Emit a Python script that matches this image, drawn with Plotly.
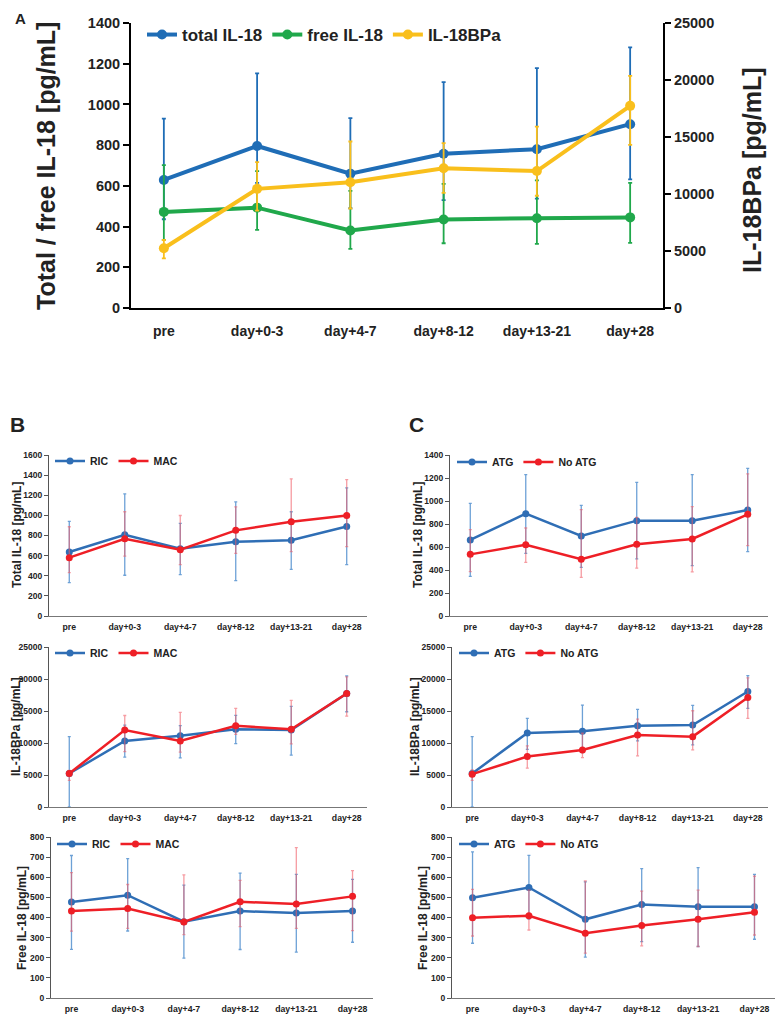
import plotly.graph_objects as go

categories = ["pre", "day+0-3", "day+4-7", "day+8-12", "day+13-21", "day+28"]

# ---- Panel A ----
a_total = [629, 796, 660, 758, 780, 903]
a_total_hi = [930, 1153, 933, 1110, 1178, 1280]
a_total_lo = [436, 615, 490, 530, 537, 632]
a_free = [472, 493, 381, 435, 441, 445]
a_free_hi = [702, 672, 575, 610, 627, 615]
a_free_lo = [335, 384, 290, 318, 315, 320]
a_bp = [5237, 10450, 11035, 12265, 12016, 17731]
a_bp_hi = [5965, 12790, 14607, 14460, 15914, 20369]
a_bp_lo = [4360, 8550, 8730, 10100, 9848, 14302]

# ---- Panel B (RIC vs MAC) ----
b_tot_ric = [636, 808, 669, 738, 752, 890]
b_tot_ric_hi = [940, 1214, 920, 1135, 1036, 1273]
b_tot_ric_lo = [332, 405, 411, 352, 464, 510]
b_tot_mac = [580, 768, 659, 851, 936, 999]
b_tot_mac_hi = [887, 1036, 999, 1085, 1362, 1356]
b_tot_mac_lo = [431, 596, 510, 623, 639, 689]

b_bp_ric = [5240, 10320, 11150, 12140, 12030, 17740]
b_bp_ric_hi = [11000, 12800, 12700, 14320, 15720, 20490]
b_bp_ric_lo = [0, 7780, 7680, 9900, 8100, 14880]
b_bp_mac = [5240, 12030, 10320, 12700, 12140, 17740]
b_bp_mac_hi = [5700, 14300, 14790, 15410, 16660, 20330]
b_bp_mac_lo = [4150, 8660, 8560, 11360, 9850, 14210]

b_free_ric = [477, 511, 379, 432, 422, 432]
b_free_ric_hi = [708, 693, 561, 620, 614, 589]
b_free_ric_lo = [242, 333, 198, 241, 228, 277]
b_free_mac = [432, 445, 378, 478, 467, 505]
b_free_mac_hi = [623, 564, 612, 584, 747, 633]
b_free_mac_lo = [332, 346, 315, 355, 346, 335]

# ---- Panel C (ATG vs No ATG) ----
c_tot_atg = [661, 890, 696, 829, 829, 922]
c_tot_atg_hi = [980, 1229, 962, 1162, 1229, 1284]
c_tot_atg_lo = [345, 545, 423, 496, 438, 559]
c_tot_no = [536, 620, 493, 623, 670, 884]
c_tot_no_hi = [751, 765, 925, 858, 951, 1235]
c_tot_no_lo = [386, 467, 336, 417, 383, 612]

c_bp_atg = [5240, 11570, 11830, 12700, 12810, 18050]
c_bp_atg_hi = [11000, 13850, 15920, 15250, 15870, 20540]
c_bp_atg_lo = [0, 9000, 8500, 10320, 9700, 15400]
c_bp_no = [5135, 7880, 8920, 11255, 10996, 17116]
c_bp_no_hi = [5810, 9540, 11520, 13745, 15040, 20180]
c_bp_no_lo = [4150, 6070, 7720, 7990, 8920, 13850]

c_free_atg = [498, 549, 391, 464, 454, 454]
c_free_atg_hi = [726, 709, 577, 643, 648, 614]
c_free_atg_lo = [272, 392, 203, 280, 256, 292]
c_free_no = [399, 409, 322, 360, 391, 426]
c_free_no_hi = [540, 536, 582, 531, 536, 605]
c_free_no_lo = [308, 338, 223, 259, 256, 313]

# page body has an 8px default margin, so the figure is sized to fit inside it
OFF = 8
W, H = 783 - 2 * OFF, 1028 - 2 * OFF
ARIAL = "Liberation Sans, Arial, sans-serif"

BLUE_A = "#1F6DB6"
GREEN_A = "#20A84B"
YELLOW_A = "#F9BF1C"
BLUE = "#2F6EB5"
RED = "#EE1F26"
BLUE_ERR = "rgba(60,130,200,0.75)"
RED_ERR = "rgba(240,90,100,0.6)"


def px(x):
    return (x - OFF) / W


def py(y):
    return 1 - (y - OFF) / H


def dx(a, b):
    return [px(a), px(b)]


def dy(top, bottom):
    return [py(bottom), py(top)]


fig = go.Figure()


def add_series(name, mean, hi, lo, xa, ya, color, errcolor, lw, ms, legend, ethick, ewidth):
    fig.add_trace(go.Scatter(
        x=categories, y=mean, name=name, mode="lines+markers",
        xaxis=xa, yaxis=ya, legend=legend,
        line=dict(color=color, width=lw),
        marker=dict(color=color, size=ms),
        error_y=dict(type="data", symmetric=False,
                     array=[h - m for h, m in zip(hi, mean)],
                     arrayminus=[m - l for m, l in zip(mean, lo)],
                     color=errcolor, thickness=ethick, width=ewidth),
    ))


# Panel A
add_series("total IL-18", a_total, a_total_hi, a_total_lo, "x", "y", BLUE_A, BLUE_A, 4, 10, "legend", 1.8, 2)
add_series("free IL-18", a_free, a_free_hi, a_free_lo, "x", "y", GREEN_A, GREEN_A, 4, 10, "legend", 1.8, 2)
add_series("IL-18BPa", a_bp, a_bp_hi, a_bp_lo, "x", "y2", YELLOW_A, YELLOW_A, 4, 10, "legend", 1.8, 2)

# Panel B
add_series("RIC", b_tot_ric, b_tot_ric_hi, b_tot_ric_lo, "x3", "y3", BLUE, BLUE_ERR, 2.5, 7, "legend2", 1.3, 1.5)
add_series("MAC", b_tot_mac, b_tot_mac_hi, b_tot_mac_lo, "x3", "y3", RED, RED_ERR, 2.5, 7, "legend2", 1.3, 1.5)
add_series("RIC", b_bp_ric, b_bp_ric_hi, b_bp_ric_lo, "x4", "y4", BLUE, BLUE_ERR, 2.5, 7, "legend3", 1.3, 1.5)
add_series("MAC", b_bp_mac, b_bp_mac_hi, b_bp_mac_lo, "x4", "y4", RED, RED_ERR, 2.5, 7, "legend3", 1.3, 1.5)
add_series("RIC", b_free_ric, b_free_ric_hi, b_free_ric_lo, "x5", "y5", BLUE, BLUE_ERR, 2.5, 7, "legend4", 1.3, 1.5)
add_series("MAC", b_free_mac, b_free_mac_hi, b_free_mac_lo, "x5", "y5", RED, RED_ERR, 2.5, 7, "legend4", 1.3, 1.5)

# Panel C
add_series("ATG", c_tot_atg, c_tot_atg_hi, c_tot_atg_lo, "x6", "y6", BLUE, BLUE_ERR, 2.5, 7, "legend5", 1.3, 1.5)
add_series("No ATG", c_tot_no, c_tot_no_hi, c_tot_no_lo, "x6", "y6", RED, RED_ERR, 2.5, 7, "legend5", 1.3, 1.5)
add_series("ATG", c_bp_atg, c_bp_atg_hi, c_bp_atg_lo, "x7", "y7", BLUE, BLUE_ERR, 2.5, 7, "legend6", 1.3, 1.5)
add_series("No ATG", c_bp_no, c_bp_no_hi, c_bp_no_lo, "x7", "y7", RED, RED_ERR, 2.5, 7, "legend6", 1.3, 1.5)
add_series("ATG", c_free_atg, c_free_atg_hi, c_free_atg_lo, "x8", "y8", BLUE, BLUE_ERR, 2.5, 7, "legend7", 1.3, 1.5)
add_series("No ATG", c_free_no, c_free_no_hi, c_free_no_lo, "x8", "y8", RED, RED_ERR, 2.5, 7, "legend7", 1.3, 1.5)

layout = dict(
    width=W, height=H, autosize=False,
    margin=dict(l=0, r=0, t=0, b=0, autoexpand=False),
    paper_bgcolor="white", plot_bgcolor="white",
    font=dict(family=ARIAL, color="#222"),
)

# Panel A axes
layout["xaxis"] = dict(domain=dx(131, 663), anchor="y", type="category",
                       showline=True, linecolor="black", linewidth=2, ticks="",
                       tickfont=dict(family=ARIAL, size=14, weight="bold", color="#222"),
                       ticklabelstandoff=9, showgrid=False, zeroline=False, automargin=False)
layout["yaxis"] = dict(domain=dy(23, 308), anchor="x", range=[0, 1400], dtick=200,
                       showline=True, linecolor="black", linewidth=2, ticks="outside",
                       ticklen=6, tickwidth=2, tickcolor="black",
                       tickfont=dict(family=ARIAL, size=14.5, weight="bold", color="#222"),
                       showgrid=False, zeroline=False, automargin=False)
layout["yaxis2"] = dict(overlaying="y", side="right", anchor="x", range=[0, 25000], dtick=5000,
                        tickformat="d",
                        showline=True, linecolor="black", linewidth=2, ticks="outside",
                        ticklen=6, tickwidth=2, tickcolor="black",
                        tickfont=dict(family=ARIAL, size=14.5, weight="bold", color="#222"),
                        showgrid=False, zeroline=False, automargin=False)

sub_axes = [
    ("3", dx(49, 367), dy(455, 616), [0, 1600], 200),
    ("4", dx(49, 367), dy(647, 807), [0, 25000], 5000),
    ("5", dx(51, 373), dy(837, 998), [0, 800], 100),
    ("6", dx(450, 768), dy(455, 616), [0, 1400], 200),
    ("7", dx(452, 768), dy(647, 807), [0, 25000], 5000),
    ("8", dx(452, 775), dy(837, 998), [0, 800], 100),
]
for n, xd, yd, rng, dt in sub_axes:
    layout["xaxis" + n] = dict(domain=xd, anchor="y" + n, type="category",
                               showline=True, linecolor="#777", linewidth=1.2, ticks="",
                               tickfont=dict(family=ARIAL, size=8.7, weight="bold", color="#222"),
                               ticklabelstandoff=2, showgrid=False, zeroline=False, automargin=False)
    layout["yaxis" + n] = dict(domain=yd, anchor="x" + n, range=rng, dtick=dt, tickformat="d",
                               showline=True, linecolor="#555", linewidth=1.2, ticks="outside",
                               ticklen=4, tickwidth=1.2, tickcolor="#555",
                               tickfont=dict(family=ARIAL, size=8.5, weight="bold", color="#222"),
                               showgrid=False, zeroline=False, automargin=False)

# Legends
layout["legend"] = dict(x=px(142), y=py(35), xanchor="left", yanchor="middle",
                        orientation="h", bgcolor="rgba(0,0,0,0)",
                        font=dict(family=ARIAL, size=17, weight="bold", color="#222"),
                        itemwidth=30, tracegroupgap=0)
leg_pos = [("legend2", 50, 461), ("legend3", 50, 653), ("legend4", 52, 844),
           ("legend5", 452, 462), ("legend6", 454, 653), ("legend7", 454, 844)]
for key, lx, ly in leg_pos:
    layout[key] = dict(x=px(lx), y=py(ly), xanchor="left", yanchor="middle",
                       orientation="h", bgcolor="rgba(0,0,0,0)",
                       font=dict(family=ARIAL, size=10.5, weight="bold", color="#222"),
                       itemwidth=30)

ann = []


def label(text, x, y, size, angle=0, yanchor="middle"):
    ann.append(dict(text=text, x=px(x), y=py(y), xref="paper", yref="paper",
                    showarrow=False, textangle=angle, xanchor="center", yanchor=yanchor,
                    font=dict(family=ARIAL, size=size, color="#222")))


label("<b>A</b>", 20, OFF, 15, yanchor="top")
label("<b>B</b>", 17, 424, 21)
label("<b>C</b>", 416, 424, 21)
label("<b>Total / free IL-18 [pg/mL]</b>", 46, 166, 25, -90)
label("<b>IL-18BPa [pg/mL]</b>", 752, 170, 25, -90)
label("<b>Total IL-18 [pg/mL]</b>", 17, 535, 12, -90)
label("<b>IL-18BPa [pg/mL]</b>", 16, 727, 12, -90)
label("<b>Free IL-18 [pg/mL]</b>", 22, 918, 12, -90)
label("<b>Total IL-18 [pg/mL]</b>", 418, 535, 12, -90)
label("<b>IL-18BPa [pg/mL]</b>", 415, 727, 12, -90)
label("<b>Free IL-18 [pg/mL]</b>", 423, 918, 12, -90)
layout["annotations"] = ann

fig.update_layout(**layout)
fig.write_html("out.html")
